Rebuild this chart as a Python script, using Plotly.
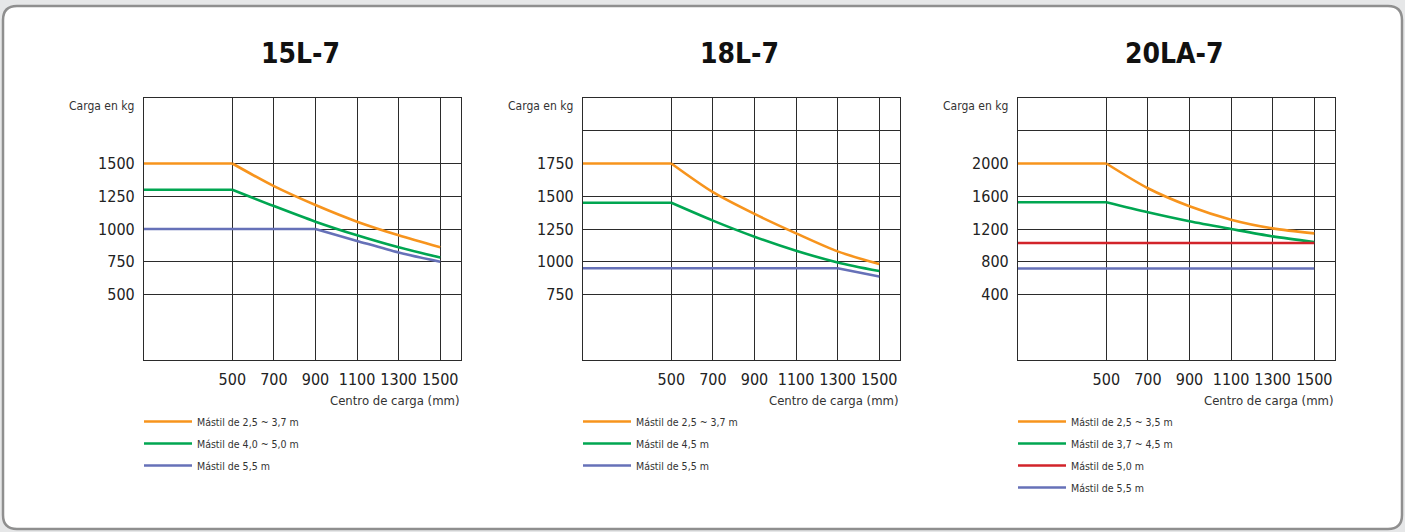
import plotly.graph_objects as go

# ---------------- data ----------------
x_pts = [75, 500, 700, 900, 1100, 1300, 1500]

titles = ["15L-7", "18L-7", "20LA-7"]

# 15L-7
c1_names = ["Mástil de 2,5 ~ 3,7 m", "Mástil de 4,0 ~ 5,0 m", "Mástil de 5,5 m"]
c1_orange = [1500, 1500, 1327, 1183, 1056, 952, 860]
c1_green = [1300, 1300, 1175, 1056, 952, 860, 782]
c1_blue = [1000, 1000, 1000, 1000, 909, 820, 750]
c1_yticks = [500, 750, 1000, 1250, 1500, 2000]
c1_ytext = ["500", "750", "1000", "1250", "1500", ""]

# 18L-7
c2_names = ["Mástil de 2,5 ~ 3,7 m", "Mástil de 4,5 m", "Mástil de 5,5 m"]
c2_orange = [1750, 1750, 1531, 1365, 1217, 1079, 982]
c2_green = [1450, 1450, 1314, 1191, 1084, 995, 929]
c2_blue = [950, 950, 950, 950, 950, 950, 887]
c2_yticks = [750, 1000, 1250, 1500, 1750, 2000]
c2_ytext = ["750", "1000", "1250", "1500", "1750", ""]

# 20LA-7
c3_names = ["Mástil de 2,5 ~ 3,5 m", "Mástil de 3,7 ~ 4,5 m", "Mástil de 5,0 m", "Mástil de 5,5 m"]
c3_orange = [2000, 2000, 1698, 1478, 1314, 1208, 1147]
c3_green = [1527, 1527, 1404, 1294, 1200, 1110, 1041]
c3_red = [1029, 1029, 1029, 1029, 1029, 1029, 1029]
c3_blue = [718, 718, 718, 718, 718, 718, 718]
c3_yticks = [400, 800, 1200, 1600, 2000, 2400]
c3_ytext = ["400", "800", "1200", "1600", "2000", ""]

x_ticks = [500, 700, 900, 1100, 1300, 1500]
x_ticktext = ["500", "700", "900", "1100", "1300", "1500"]

# ---------------- style ----------------
ORANGE = "#f7941d"
GREEN = "#00a651"
RED = "#d2232a"
BLUE = "#6671b8"
FONT = "DejaVu Sans Condensed, Liberation Sans Narrow, Roboto, sans-serif"
GRID = "#2b2b2b"
W, H = 1405, 532

charts = [
    dict(series=[(c1_names[0], c1_orange, ORANGE), (c1_names[1], c1_green, GREEN),
                 (c1_names[2], c1_blue, BLUE)],
         yticks=c1_yticks, ytext=c1_ytext, yrange=[0, 2000], px=(144, 461)),
    dict(series=[(c2_names[0], c2_orange, ORANGE), (c2_names[1], c2_green, GREEN),
                 (c2_names[2], c2_blue, BLUE)],
         yticks=c2_yticks, ytext=c2_ytext, yrange=[250, 2250], px=(583, 900)),
    dict(series=[(c3_names[0], c3_orange, ORANGE), (c3_names[1], c3_green, GREEN),
                 (c3_names[2], c3_red, RED), (c3_names[3], c3_blue, BLUE)],
         yticks=c3_yticks, ytext=c3_ytext, yrange=[-400, 2800], px=(1018, 1335)),
]

fig = go.Figure()
ydom = [(H - 360) / H, (H - 98) / H]
annotations = []
layout_axes = {}

for i, ch in enumerate(charts):
    k = "" if i == 0 else str(i + 1)
    xa, ya = "x" + k, "y" + k
    leg = "legend" + k
    for s, (name, vals, col) in enumerate(ch["series"]):
        grp = f"g{i}_{s}"
        # end of the flat (constant-load) part
        j = 0
        while j + 1 < len(vals) and vals[j + 1] == vals[0]:
            j += 1
        fig.add_trace(go.Scatter(
            x=x_pts[:j + 1], y=vals[:j + 1], mode="lines", name=name,
            line=dict(color=col, width=2.6), legendgroup=grp, showlegend=True,
            xaxis=xa, yaxis=ya, legend=leg, hoverinfo="skip"))
        if j < len(vals) - 1:
            fig.add_trace(go.Scatter(
                x=x_pts[j:], y=vals[j:], mode="lines", name=name,
                line=dict(color=col, width=2.6, shape="spline", smoothing=0.8),
                legendgroup=grp, showlegend=False,
                xaxis=xa, yaxis=ya, legend=leg, hoverinfo="skip"))
    x0, x1 = ch["px"]
    layout_axes["xaxis" + k] = dict(
        domain=[x0 / W, x1 / W], range=[75, 1600], anchor=ya,
        tickvals=x_ticks, ticktext=x_ticktext, showgrid=True, gridcolor=GRID,
        gridwidth=1, zeroline=False, showline=True, linecolor=GRID, linewidth=1.2,
        mirror=True, ticks="", tickfont=dict(family=FONT, size=16, color="#222"),
        ticklabelstandoff=5, fixedrange=True)
    layout_axes["yaxis" + k] = dict(
        domain=ydom, range=ch["yrange"], anchor=xa,
        tickvals=ch["yticks"], ticktext=ch["ytext"], showgrid=True, gridcolor=GRID,
        gridwidth=1, zeroline=False, showline=True, linecolor=GRID, linewidth=1.2,
        mirror=True, ticks="", tickfont=dict(family=FONT, size=16, color="#222"),
        ticklabelstandoff=5, fixedrange=True)
    layout_axes[leg] = dict(
        x=(x0 - 5) / W, y=(H - 407) / H, xanchor="left", yanchor="top",
        bgcolor="rgba(0,0,0,0)", font=dict(family=FONT, size=10.5, color="#333"),
        tracegroupgap=3, itemwidth=48)
    # titles
    annotations.append(dict(
        text="<b>" + titles[i] + "</b>", xref="paper", yref="paper",
        x=((x0 + x1) / 2 - 2) / W, y=(H - 53) / H, xanchor="center", yanchor="middle",
        showarrow=False, font=dict(family=FONT, size=28, color="#111")))
    annotations.append(dict(
        text="Carga en kg", xref="paper", yref="paper",
        x=(x0 - 8) / W, y=(H - 106) / H, xanchor="right", yanchor="middle",
        showarrow=False, font=dict(family=FONT, size=12, color="#333")))
    annotations.append(dict(
        text="Centro de carga (mm)", xref="paper", yref="paper",
        x=(x1 + 1) / W, y=(H - 400) / H, xanchor="right", yanchor="middle",
        showarrow=False, font=dict(family=FONT, size=13, color="#333")))

# rounded panel frame (pixel geometry converted to paper coords)
r = 14
x0p, x1p, y0p, y1p = 3, 1402, 6, 529


def P(x, y):
    return f"{x / W:.5f},{(H - y) / H:.5f}"


pp = (f"M{P(x0p + r, y0p)} L{P(x1p - r, y0p)} Q{P(x1p, y0p)} {P(x1p, y0p + r)} "
      f"L{P(x1p, y1p - r)} Q{P(x1p, y1p)} {P(x1p - r, y1p)} L{P(x0p + r, y1p)} "
      f"Q{P(x0p, y1p)} {P(x0p, y1p - r)} L{P(x0p, y0p + r)} Q{P(x0p, y0p)} {P(x0p + r, y0p)} Z")
shape = dict(type="path", xref="paper", yref="paper", layer="below", path=pp,
             fillcolor="white", line=dict(color="#8f8f8f", width=2.5))

fig.update_layout(
    width=W, height=H, margin=dict(l=0, r=0, t=0, b=0),
    paper_bgcolor="#e6e7e8", plot_bgcolor="white",
    showlegend=True, annotations=annotations, shapes=[shape],
    **layout_axes)

fig.write_html("out.html", config={"displayModeBar": False},
               post_script="document.body.style.margin='0px';document.body.style.overflow='hidden';")
